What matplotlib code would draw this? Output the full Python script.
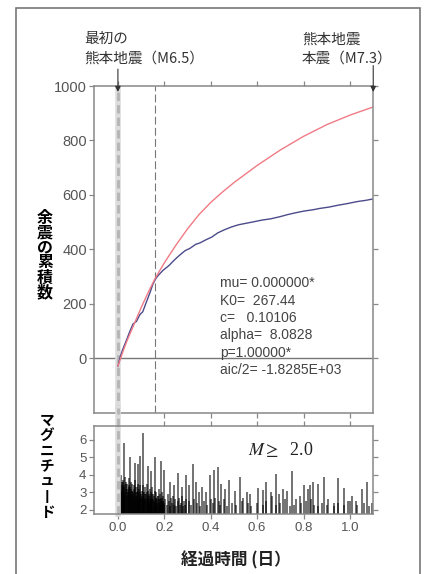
import numpy as np
import matplotlib
matplotlib.use("Agg")
import matplotlib.pyplot as plt
from matplotlib.patches import Rectangle

plt.rcParams['font.family'] = ['Liberation Sans', 'DejaVu Sans']
plt.rcParams['mathtext.fontset'] = 'stix'
CJK = ['Noto Sans CJK JP', 'DejaVu Sans']

# --- 累積数（経過日数, 件数） ---
model_days = [0.0, 0.02, 0.04, 0.06, 0.08, 0.1, 0.12, 0.14, 0.16, 0.2, 0.25,
              0.3, 0.35, 0.4, 0.45, 0.5, 0.6, 0.7, 0.8, 0.9, 1.0, 1.1]
model_count = [-30, 20, 65, 105, 145, 185, 222, 258, 292, 350, 415,
               475, 528, 572, 610, 645, 708, 765, 815, 858, 893, 923]

obs_days = [0.0, 0.01, 0.02, 0.037, 0.05, 0.065, 0.08, 0.095, 0.107, 0.12, 0.138,
            0.15, 0.163, 0.175, 0.195, 0.22, 0.245, 0.267, 0.29, 0.31, 0.335,
            0.353, 0.38, 0.405, 0.43, 0.46, 0.49, 0.52, 0.55, 0.58, 0.62, 0.66,
            0.7, 0.73, 0.76, 0.8, 0.84, 0.87, 0.91, 0.95, 0.99, 1.03, 1.07, 1.1]
obs_count = [-30, 5, 30, 66, 95, 125, 135, 160, 170, 200, 240,
             270, 292, 305, 323, 340, 362, 379, 395, 403, 418,
             423, 435, 445, 460, 472, 482, 490, 495, 500, 507, 512,
             520, 527, 533, 540, 545, 550, 555, 562, 568, 575, 580, 585]

# --- 余震のマグニチュード ---
shock_days = [
    0.027, 0.050, 0.073, 0.086, 0.096, 0.108, 0.129, 0.144, 0.161, 0.185, 0.200,
    0.226, 0.243, 0.257, 0.276, 0.293, 0.307, 0.322, 0.336, 0.348, 0.362, 0.379,
    0.398, 0.412, 0.431, 0.445, 0.462, 0.480, 0.503, 0.527, 0.537, 0.555, 0.569,
    0.605, 0.624, 0.638, 0.662, 0.681, 0.695, 0.713, 0.727, 0.749, 0.767, 0.784,
    0.803, 0.820, 0.828, 0.839, 0.863, 0.888, 0.907, 0.932, 0.947, 0.974, 0.993,
    1.007, 1.026, 1.050, 1.072, 1.094,
    0.002, 0.005, 0.008, 0.011, 0.014, 0.017, 0.020, 0.023, 0.026, 0.030, 0.033,
    0.036, 0.040, 0.043, 0.046, 0.049,
    0.053, 0.056, 0.059, 0.062, 0.065, 0.068, 0.071, 0.075, 0.078, 0.081, 0.084,
    0.087, 0.090, 0.093, 0.096, 0.099,
    0.103, 0.106, 0.109, 0.112, 0.115, 0.118, 0.121, 0.125, 0.128, 0.131, 0.134,
    0.137, 0.140, 0.143, 0.146, 0.149,
    0.153, 0.156, 0.159, 0.162, 0.165, 0.168, 0.171, 0.175, 0.178, 0.181, 0.184,
    0.187, 0.190, 0.193, 0.196, 0.199,
    0.205, 0.210, 0.214, 0.219, 0.224, 0.229, 0.233, 0.238, 0.243, 0.248, 0.252,
    0.257, 0.262, 0.267, 0.271, 0.276, 0.281, 0.286, 0.290, 0.295,
    0.305, 0.315, 0.328, 0.34, 0.355, 0.37, 0.385, 0.40, 0.41, 0.42, 0.435, 0.44,
    0.455, 0.47, 0.49, 0.51, 0.535, 0.56, 0.575, 0.60, 0.625, 0.64, 0.66, 0.68,
    0.70, 0.72, 0.74, 0.76, 0.79, 0.81, 0.83, 0.845, 0.86, 0.88, 0.90, 0.93,
    0.95, 0.975, 1.0, 1.03, 1.06, 1.08,
    0.0035, 0.0065, 0.0095, 0.0125, 0.0155, 0.0185, 0.0215, 0.0245, 0.028,
    0.0315, 0.0345, 0.038, 0.0415, 0.0445, 0.0475,
    0.0515, 0.0545, 0.0575, 0.0605, 0.0635, 0.0665, 0.0695, 0.073, 0.0765,
    0.0795, 0.0825, 0.0855, 0.0885, 0.0915, 0.0945, 0.0975,
    0.1015, 0.1045, 0.1075, 0.1105, 0.1135, 0.1165, 0.1195, 0.1235, 0.1265,
    0.1295, 0.1325, 0.1355, 0.1385, 0.1415, 0.1445, 0.1475,
    0.1515, 0.1545, 0.1575, 0.1605, 0.1635, 0.1665, 0.1695, 0.173, 0.1765,
    0.1795, 0.1825, 0.1855, 0.1885, 0.1915, 0.1945, 0.1975,
]
shock_mag = [
    5.8, 5.05, 4.7, 4.6, 5.1, 6.4, 4.5, 4.2, 5.0, 4.8, 4.3,
    3.6, 3.4, 4.1, 3.3, 4.0, 3.4, 4.6, 3.6, 3.0, 3.3, 3.0,
    4.0, 4.3, 4.45, 3.5, 3.2, 3.7, 3.1, 3.9, 2.7, 3.05, 2.9,
    3.25, 3.15, 3.6, 2.8, 4.05, 2.9, 3.2, 3.1, 4.25, 2.6, 2.8,
    3.4, 3.2, 3.45, 3.6, 3.5, 3.9, 2.6, 2.4, 3.8, 3.25, 2.5,
    2.8, 2.5, 3.2, 3.6, 2.4,
    4.1, 3.8, 3.9, 3.5, 4.0, 3.6, 3.3, 3.7, 3.4, 3.9, 3.2,
    3.6, 3.5, 3.0, 3.4, 3.8,
    3.3, 3.6, 3.1, 3.5, 2.9, 3.4, 3.2, 3.7, 2.8, 3.3, 3.0,
    3.5, 2.7, 3.2, 3.4, 2.9,
    3.1, 2.8, 3.4, 3.0, 2.6, 3.3, 2.9, 3.5, 2.7, 3.1, 2.5,
    3.2, 2.8, 3.0, 2.6, 3.3,
    2.9, 2.5, 3.1, 2.7, 3.0, 2.4, 2.8, 3.2, 2.6, 2.9, 2.3,
    2.7, 3.0, 2.5, 2.8, 2.4,
    2.6, 2.3, 2.9, 2.5, 2.2, 2.7, 2.4, 2.8, 2.3, 2.6, 2.2,
    2.5, 2.7, 2.3, 2.4, 2.8, 2.2, 2.5, 2.3, 2.6,
    2.5, 2.3, 2.6, 2.4, 2.2, 2.5, 2.3, 2.6, 2.4, 2.7, 2.5, 2.3,
    2.6, 2.2, 2.4, 2.3, 2.5, 2.4, 2.2, 2.4, 2.3, 2.5, 3.0, 2.3,
    2.4, 2.6, 2.2, 2.3, 2.4, 2.5, 2.6, 2.3, 2.2, 2.4, 2.3, 2.2,
    2.4, 2.3, 2.5, 2.3, 2.4, 2.2,
    3.5, 3.2, 3.7, 3.0, 3.4, 3.1, 3.6, 2.9, 3.3,
    3.0, 3.5, 2.8, 3.2, 3.0, 3.3,
    3.0, 3.2, 2.8, 3.1, 2.7, 3.0, 2.9, 3.3, 2.6,
    3.0, 2.8, 3.1, 2.6, 2.9, 3.0, 2.7,
    2.8, 2.6, 3.0, 2.7, 2.5, 2.9, 2.6, 3.0, 2.5,
    2.8, 2.4, 2.9, 2.6, 2.7, 2.5, 2.9,
    2.6, 2.4, 2.8, 2.5, 2.7, 2.3, 2.6, 2.8, 2.4,
    2.6, 2.3, 2.5, 2.7, 2.4, 2.5, 2.3,
]

first_day = 0.0      # 最初の熊本地震
fit_end_day = 0.16   # 推定に使った期間の終わり
main_day = 1.1       # 本震

params_text = ("mu= 0.000000*\nK0=  267.44\nc=   0.10106\n"
               "alpha=  8.0828\np=1.00000*\naic/2= -1.8285E+03")

W, H = 424, 574
fig = plt.figure(figsize=(W / 100, H / 100), dpi=100)
fx = lambda px: px / W
fy = lambda py: 1 - py / H

spine_c = '#888888'
tick_c = '#555555'

ax1 = fig.add_axes([fx(94), fy(413), fx(373) - fx(94), fy(86) - fy(413)])
ax2 = fig.add_axes([fx(94), fy(514), fx(373) - fx(94), fy(426) - fy(514)])

xlim = (-0.103, 1.099)
for ax in (ax1, ax2):
    ax.set_xlim(*xlim)
    ax.set_xticks([0, 0.2, 0.4, 0.6, 0.8, 1.0])
    for s in ax.spines.values():
        s.set_color(spine_c)
        s.set_linewidth(1.1)
    ax.tick_params(direction='out', length=3.5, width=0.9, color=spine_c,
                   labelcolor=tick_c, top=True, right=True, pad=1.5)


def first_quake_line(ax, **kw):
    # 幅広の薄い灰色の帯と、その中の破線
    ax.axvline(first_day, color='#dcdcdc', lw=4, **kw)
    ax.axvline(first_day, color='#b4b4b4', lw=2, ls=(0, (3, 1.5)), **kw)


ax1.set_ylim(-202, 1000)
ax1.set_yticks([0, 200, 400, 600, 800, 1000])
ax1.tick_params(labelbottom=False, labelsize=10.5)
ax1.axhline(0, color='#777777', lw=1.0)
first_quake_line(ax1)
ax1.axvline(fit_end_day, color='#777777', lw=0.8, ls=(0, (7, 3)))
ax1.plot(obs_days, obs_count, color='#4b4b8c', lw=1.0)
ax1.plot(model_days, model_count, color='#f07a85', lw=1.0)
ax1.text(0.44, 300, params_text, fontsize=10, color='#444444',
         va='top', ha='left', linespacing=1.3)

arrow_kw = dict(arrowstyle='-|>', color='#333333', lw=0.8,
                mutation_scale=8, shrinkA=0, shrinkB=0)
ax1.annotate('', xy=(first_day, 978), xytext=(first_day, 1062),
             annotation_clip=False, arrowprops=arrow_kw)
ax1.annotate('', xy=(main_day, 978), xytext=(main_day, 1075),
             annotation_clip=False, arrowprops=arrow_kw)

ax2.set_ylim(1.77, 6.8)
ax2.set_yticks([2, 3, 4, 5, 6])
ax2.tick_params(labelsize=9.5, pad=2)
ax2.set_xticklabels(['0.0', '0.2', '0.4', '0.6', '0.8', '1.0'])
ax2.vlines(shock_days, 1.7, shock_mag, color='black', lw=1.1, alpha=0.7)
first_quake_line(ax2, ymin=0, ymax=1.2, clip_on=False)
ax2.text(0.56, 5.45, r'$M \geq$  2.0', fontsize=13, color='#222222',
         family='Liberation Serif', va='center', ha='left')

fig.text(fx(84), fy(49), '最初の\n熊本地震（M6.5）', family=CJK, fontsize=10.5,
         color='#333333', ha='left', va='center', linespacing=1.5)
fig.text(fx(302), fy(49), '熊本地震\n本震（M7.3）', family=CJK, fontsize=10.5,
         color='#333333', ha='left', va='center', linespacing=1.5)

fig.text(fx(45), fy(255), '\n'.join('余震の累積数'), family=CJK, fontsize=11.5,
         weight='bold', ha='center', va='center', linespacing=0.92)
fig.text(fx(47), fy(466), '\n'.join('マグニチュ丨ド'), family=CJK, fontsize=10.5,
         weight='bold', ha='center', va='center', linespacing=0.95)
fig.text(fx(236), fy(560), '経過時間 (日）', family=CJK, fontsize=12,
         weight='bold', color='#222222', ha='center', va='center')

fig.add_artist(Rectangle((fx(16), -0.02), fx(420) - fx(16), fy(8) + 0.02,
                         transform=fig.transFigure, fill=False,
                         ec='#777777', lw=1.2))

fig.savefig('out.png', dpi=100)
